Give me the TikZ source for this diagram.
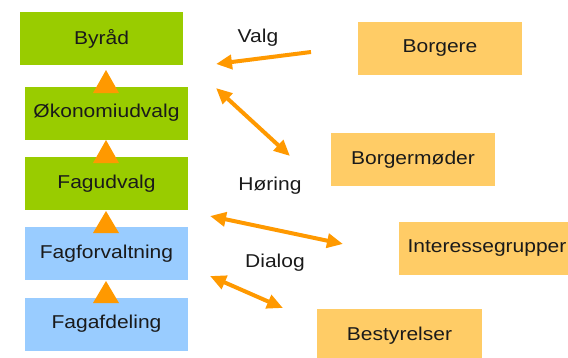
\documentclass[tikz,border=0pt]{standalone}
\usepackage{fontspec}
\setmainfont{Liberation Sans}
\usepackage{graphicx}
\usetikzlibrary{arrows.meta}
\definecolor{grn}{HTML}{99CC00}
\definecolor{blu}{HTML}{99CCFF}
\definecolor{org}{HTML}{FFCC66}
\definecolor{arr}{HTML}{FF9900}
\definecolor{txt}{HTML}{1A1A1A}
\newcommand{\wtxt}[1]{\scalebox{1.13}[1]{#1}}
\tikzset{
  box/.style={minimum width=163pt, minimum height=53pt, inner sep=0pt, text=txt,
    font=\fontsize{18.6}{22}\selectfont},
  gbox/.style={box, fill=grn},
  bbox/.style={box, fill=blu},
  obox/.style={box, fill=org, minimum width=164pt},
  lbl/.style={text=txt, inner sep=0pt, font=\fontsize{18.6}{22}\selectfont},
  conn/.style={draw=arr, line width=4pt},
  tip/.style={},
  tri/.style={fill=arr},
}
\begin{document}
\begin{tikzpicture}[x=1pt,y=-1pt,
  >={Triangle[length=16pt,width=14pt]}]
\useasboundingbox (0,0) rectangle (568,357);
\clip (0,0) rectangle (568,357);
\node[gbox] (byraad) at (101.5,38.5) {\wtxt{Byråd}};
\node[gbox] (okonomi) at (106.5,113) {\wtxt{Økonomiudvalg}};
\node[gbox] (fagudvalg) at (106.5,183.5) {\wtxt{Fagudvalg}};
\node[bbox] (fagforv) at (106.5,253.5) {\wtxt{Fagforvaltning}};
\node[bbox] (fagafd) at (106.5,324) {\wtxt{Fagafdeling}};

\node[obox] (borgere) at (440,48.5) {\wtxt{Borgere}};
\node[obox] (borgermoder) at (413,159.5) {\wtxt{Borgermøder}};
\node[obox, minimum width=176pt] (interesse) at (487,248) {\wtxt{Interessegrupper}};
\node[obox, minimum width=165pt] (bestyr) at (399.5,335.5) {\wtxt{Bestyrelser}};

\fill[tri] (93,93) -- (106,70) -- (119,93) -- cycle;
\fill[tri] (93,163) -- (106,140) -- (119,163) -- cycle;
\fill[tri] (93,233) -- (106,211) -- (119,233) -- cycle;
\fill[tri] (93,303) -- (106,281) -- (119,303) -- cycle;

\coordinate (a1s) at (311,52);
\coordinate (a1e) at (216,64);
\coordinate (a2s) at (216,88);
\coordinate (a2e) at (290,156);
\coordinate (a3s) at (210,216);
\coordinate (a3e) at (343,244);
\coordinate (a4s) at (210,276);
\coordinate (a4e) at (283,308);

\draw[conn,->] (a1s) -- (a1e);
\draw[conn,<->] (a2s) -- (a2e);
\draw[conn,<->] (a3s) -- (a3e);
\draw[conn,<->] (a4s) -- (a4e);

\node[lbl] (valg) at (258,38) {\wtxt{Valg}};
\node[lbl] (horing) at (270,186) {\wtxt{Høring}};
\node[lbl] (dialog) at (275,263) {\wtxt{Dialog}};
\end{tikzpicture}
\end{document}
